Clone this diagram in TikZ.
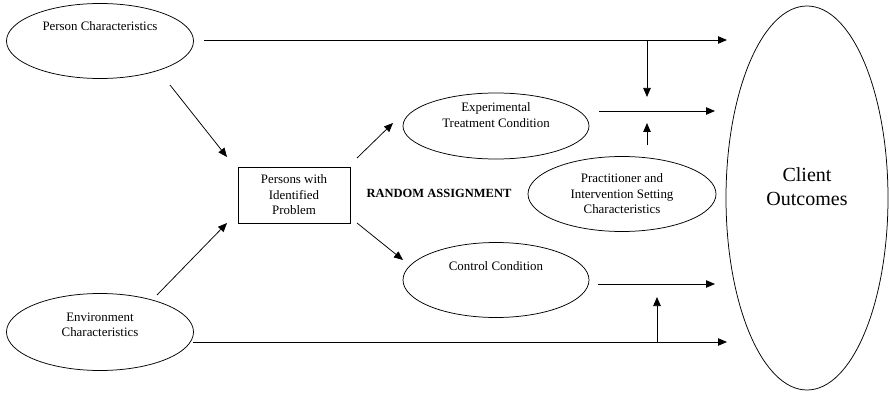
\documentclass[tikz,border=0pt]{standalone}
\usepackage{fontspec}
\setmainfont{Liberation Serif}
\usetikzlibrary{arrows.meta,shapes.geometric,calc}
\tikzset{
  oval/.style={ellipse,draw,line width=0.75pt,inner sep=0pt},
  box/.style ={rectangle,draw,line width=0.75pt,minimum width=112pt,minimum height=56pt,inner sep=0pt},
  txt/.style ={align=center,inner sep=0pt,font=\fontsize{12.9}{15.5}\selectfont},
  big/.style ={align=center,inner sep=0pt,font=\fontsize{20}{24}\selectfont},
  bold/.style={inner sep=0pt,font=\fontsize{12.5}{15}\selectfont\bfseries},
  ar/.style={-{Triangle[length=9pt,width=7.5pt]},line width=0.75pt},
}
\begin{document}
\begin{tikzpicture}[x=1pt,y=-1pt]
  \useasboundingbox (0,0) rectangle (889,393);
  % ovals and box
  \node[oval,minimum width=187pt,minimum height=75pt] (pc) at (100,41){};
  \node[oval,minimum width=187pt,minimum height=77pt] (ec) at (100,332){};
  \node[box] (pw) at (294,195){};
  \node[oval,minimum width=186pt,minimum height=66pt] (ex) at (496,126){};
  \node[oval,minimum width=186pt,minimum height=75pt] (cc) at (496,280){};
  \node[oval,minimum width=188pt,minimum height=75pt] (pi) at (622,194){};
  \node[oval,minimum width=162pt,minimum height=384pt] (co) at (807,198){};
  % texts
  \node[txt] (pct) at (100,26){Person Characteristics};
  \node[txt] (ect) at (100,325){Environment\\Characteristics};
  \node[txt] (pwt) at (294,195){Persons with\\Identified\\Problem};
  \node[txt] (ext) at (496,115){Experimental\\Treatment Condition};
  \node[txt] (cct) at (496,266){Control Condition};
  \node[txt] (pit) at (622,194){Practitioner and\\Intervention Setting\\Characteristics};
  \node[big] (cot) at (807,187){Client\\Outcomes};
  \node[bold] (ra) at (439,193){RANDOM ASSIGNMENT};
  % arrow ends
  \coordinate (pcR) at (204,40);   \coordinate (pcE) at (727,40);
  \coordinate (j1)  at (647,40);   \coordinate (j1E) at (647,97);
  \coordinate (exR) at (599,111);  \coordinate (exE) at (715,111);
  \coordinate (piU) at (647,145);  \coordinate (piE) at (647,123);
  \coordinate (ccR) at (598,284);  \coordinate (ccE) at (715,284);
  \coordinate (ecR) at (193,342);  \coordinate (ecE) at (727,342);
  \coordinate (j2)  at (657,342);  \coordinate (j2E) at (657,297);
  \coordinate (pcD) at (170,85);   \coordinate (pwA) at (227,157);
  \coordinate (ecU) at (157,295);  \coordinate (pwB) at (227,223);
  \coordinate (pwC) at (357,158);  \coordinate (exA) at (393,123);
  \coordinate (pwD) at (357,223);  \coordinate (ccA) at (403,260);
  % arrows
  \draw[ar] (pcR) -- (pcE);
  \draw[ar] (j1) -- (j1E);
  \draw[ar] (exR) -- (exE);
  \draw[ar] (piU) -- (piE);
  \draw[ar] (ccR) -- (ccE);
  \draw[ar] (ecR) -- (ecE);
  \draw[ar] (j2) -- (j2E);
  \draw[ar] (pcD) -- (pwA);
  \draw[ar] (ecU) -- (pwB);
  \draw[ar] (pwC) -- (exA);
  \draw[ar] (pwD) -- (ccA);
\end{tikzpicture}
\end{document}
